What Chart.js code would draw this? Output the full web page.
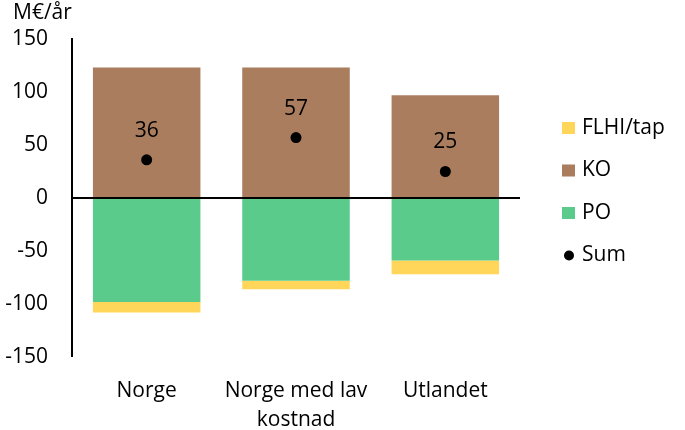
<!DOCTYPE html>
<html>
<head>
<meta charset="utf-8">
<script src="https://cdn.jsdelivr.net/npm/chart.js@4"></script>
<style>
    html, body { margin: 0; padding: 0; background: #fff; }
    #wrap { width: 685px; height: 430px; position: relative; }
</style>
</head>
<body>
<div id="wrap"><canvas id="chart"></canvas></div>
<script>
// Chart data
const categories = ['Norge', ['Norge med lav', 'kostnad'], 'Utlandet'];
const koValues = [123, 123, 97];
const poValues = [-98, -78, -59];
const flhiValues = [-10, -8, -13];
const sumValues = [36, 57, 25];
const yTicks = [150, 100, 50, 0, -50, -100, -150];

const FONT = '"Open Sans", Lato, sans-serif';
const colors = {
    flhi: '#FFD65A',
    ko: '#AA7D5E',
    po: '#5BCB8C',
    sum: '#000000'
};

// Draws the unit label, the sum labels and the legend on the right
const extrasPlugin = {
    id: 'extras',
    afterDatasetsDraw(chart) {
        const ctx = chart.ctx;
        ctx.save();
        ctx.fillStyle = '#000';
        ctx.font = '21px ' + FONT;
        ctx.textBaseline = 'middle';

        // unit label
        ctx.textAlign = 'left';
        ctx.fillText('M€/år', 13, 13);

        // sum labels above the dots
        const meta = chart.getDatasetMeta(3);
        ctx.textAlign = 'center';
        meta.data.forEach((pt, i) => {
            ctx.fillText(String(sumValues[i]), pt.x, pt.y - 29);
        });

        // legend
        const items = [
            { label: 'FLHI/tap', color: colors.flhi, dot: false },
            { label: 'KO', color: colors.ko, dot: false },
            { label: 'PO', color: colors.po, dot: false },
            { label: 'Sum', color: colors.sum, dot: true }
        ];
        ctx.textAlign = 'left';
        items.forEach((item, i) => {
            const cy = 128 + i * 42.5;
            ctx.fillStyle = item.color;
            if (item.dot) {
                ctx.beginPath();
                ctx.arc(569, cy, 5, 0, Math.PI * 2);
                ctx.fill();
            } else {
                ctx.fillRect(562, cy - 6, 13, 12);
            }
            ctx.fillStyle = '#000';
            ctx.fillText(item.label, 582, cy);
        });
        ctx.restore();
    }
};

new Chart(document.getElementById('chart'), {
    type: 'bar',
    data: {
        labels: categories,
        datasets: [
            { label: 'KO', data: koValues, backgroundColor: colors.ko, stack: 'a', order: 1 },
            { label: 'PO', data: poValues, backgroundColor: colors.po, stack: 'a', order: 1 },
            { label: 'FLHI/tap', data: flhiValues, backgroundColor: colors.flhi, stack: 'a', order: 1 },
            {
                type: 'line',
                label: 'Sum',
                data: sumValues,
                stack: 'sum',
                order: 0,
                showLine: false,
                pointRadius: 5.5,
                pointHoverRadius: 5.5,
                pointBackgroundColor: colors.sum,
                pointBorderWidth: 0
            }
        ]
    },
    options: {
        responsive: true,
        maintainAspectRatio: false,
        animation: false,
        layout: {
            padding: { top: 39, right: 165, left: 0, bottom: 0 }
        },
        plugins: {
            legend: { display: false },
            tooltip: { enabled: false }
        },
        scales: {
            x: {
                stacked: true,
                grid: { display: false },
                border: { display: false },
                categoryPercentage: 1,
                barPercentage: 0.72,
                ticks: {
                    color: '#000',
                    font: { family: FONT, size: 21, lineHeight: 1.4 },
                    padding: 11,
                    maxRotation: 0,
                    autoSkip: false
                },
                afterFit(scale) { scale.height = 73; }
            },
            y: {
                stacked: true,
                min: -150,
                max: 150,
                afterBuildTicks(scale) {
                    scale.ticks = yTicks.map(v => ({ value: v }));
                },
                border: { display: true, color: '#000', width: 2 },
                grid: {
                    drawTicks: false,
                    color: ctx => ctx.tick && ctx.tick.value === 0 ? '#000' : 'rgba(0,0,0,0)',
                    lineWidth: ctx => ctx.tick && ctx.tick.value === 0 ? 2 : 0
                },
                ticks: {
                    color: '#000',
                    font: { family: FONT, size: 21 },
                    padding: 24
                },
                afterFit(scale) { scale.width = 72; }
            }
        }
    },
    plugins: [extrasPlugin]
});
</script>
</body>
</html>
